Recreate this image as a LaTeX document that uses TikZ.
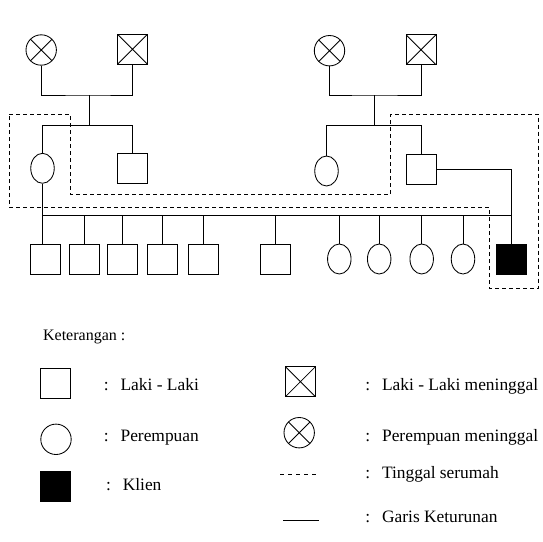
\documentclass[tikz,border=0pt]{standalone}
\usepackage{fontspec}
\setmainfont{Liberation Serif}
\usepackage{tikz}
\usetikzlibrary{positioning, shapes.geometric}

\tikzset{
  male/.style={draw, rectangle, minimum size=30pt, inner sep=0pt},
  female/.style={draw, ellipse, minimum width=23.5pt, minimum height=30pt, inner sep=0pt},
  femalecirc/.style={draw, circle, minimum size=30.4pt, inner sep=0pt},
  dead/.style={path picture={
      \draw (path picture bounding box.north west) -- (path picture bounding box.south east)
            (path picture bounding box.north east) -- (path picture bounding box.south west);}},
  client/.style={male, fill=black},
  house/.style={dash pattern=on 4pt off 3pt},
  legend/.style={anchor=base west, inner sep=0pt, font=\fontsize{17.4}{20}\selectfont},
}

\begin{document}
\begin{tikzpicture}[x=1pt, y=-1pt, line width=0.85pt]
      \useasboundingbox (0,0) rectangle (543,541);

      % Grandparents
      \node[femalecirc, dead] (gmL) at (41.2,50) {};
      \node[male, dead] (gfL) at (132.5,49.3) {};
      \node[femalecirc, dead] (gmR) at (329.5,50.7) {};
      \node[male, dead] (gfR) at (421,49.7) {};

      % Parents generation
      \node[female] (mom) at (42.5,168.3) {};
      \node[male] (uncle) at (132.5,168.3) {};
      \node[female] (aunt) at (326.5,171) {};
      \node[male] (dad) at (421.5,169.8) {};

      % Children
      \node[male] (s1) at (45.7,259) {};
      \node[male] (s2) at (84.3,259) {};
      \node[male] (s3) at (122.3,259) {};
      \node[male] (s4) at (162.7,259) {};
      \node[male] (s5) at (203.7,259) {};
      \node[male] (s6) at (275.3,259) {};
      \node[female] (d1) at (339.3,259) {};
      \node[female] (d2) at (379.2,259) {};
      \node[female] (d3) at (421.7,259) {};
      \node[female] (d4) at (463,259) {};
      \node[client] (klien) at (511.5,259) {};

      % Descent lines
      \coordinate (wedL) at (89,95);
      \coordinate (sibL) at (89,125.7);
      \coordinate (wedR) at (374,95);
      \coordinate (sibR) at (374,125.7);
      \coordinate (kids) at (511.5,215);

      \draw (gmL.south) |- (wedL) -| (gfL.south);
      \draw (wedL) -- (sibL);
      \draw (mom.north) |- (sibL) -| (uncle.north);
      \draw (gmR.south) |- (wedR) -| (gfR.south);
      \draw (wedR) -- (sibR);
      \draw (aunt.north) |- (sibR) -| (dad.north);

      \draw (mom.south) -- (mom.south |- s1.north);
      \draw (mom.south |- kids) -- (kids);
      \draw (dad.east) -| (klien.north);
      \draw (s2.north) -- (s2.north |- kids);
      \draw (s3.north) -- (s3.north |- kids);
      \draw (s4.north) -- (s4.north |- kids);
      \draw (s5.north) -- (s5.north |- kids);
      \draw (s6.north) -- (s6.north |- kids);
      \draw (d1.north) -- (d1.north |- kids);
      \draw (d2.north) -- (d2.north |- kids);
      \draw (d3.north) -- (d3.north |- kids);
      \draw (d4.north) -- (d4.north |- kids);

      % Living together
      \draw[house] (9,114) -- (70,114) -- (70,194) -- (390.7,194) -- (390.7,114)
        -- (538.3,114) -- (538.3,288.3) -- (489,288.3) -- (489,207.7) -- (9,207.7) -- cycle;

      % Legend
      \node[anchor=base west, inner sep=0pt, font=\fontsize{16}{19}\selectfont] (ket) at (42.7,340.7) {Keterangan :};

      \node[male] (lgMale) at (55.7,383.3) {};
      \node[legend] (txMale) at (103.5,390) {:\hspace{0.68em}Laki - Laki};
      \node[femalecirc] (lgFemale) at (56,439.3) {};
      \node[legend] (txFemale) at (103.5,441.7) {:\hspace{0.68em}Perempuan};
      \node[client] (lgKlien) at (55.7,486.7) {};
      \node[legend] (txKlien) at (105.7,490.7) {:\hspace{0.68em}Klien};

      \node[male, dead] (lgDeadMale) at (300.4,381.7) {};
      \node[legend] (txDeadMale) at (365,390) {:\hspace{0.68em}Laki - Laki meninggal};
      \node[femalecirc, dead] (lgDeadFemale) at (299.2,432.7) {};
      \node[legend] (txDeadFemale) at (365,441.7) {:\hspace{0.68em}Perempuan meninggal};
      \coordinate (lgHouseA) at (280,474.3);
      \coordinate (lgHouseB) at (316,474.3);
      \draw[dash pattern=on 4pt off 4pt] (lgHouseA) -- (lgHouseB);
      \node[legend] (txHouse) at (365,478) {:\hspace{0.68em}Tinggal serumah};
      \coordinate (lgLineA) at (283.3,520.3);
      \coordinate (lgLineB) at (318.7,520.3);
      \draw (lgLineA) -- (lgLineB);
      \node[legend] (txLine) at (365,522) {:\hspace{0.68em}Garis Keturunan};
\end{tikzpicture}
\end{document}
